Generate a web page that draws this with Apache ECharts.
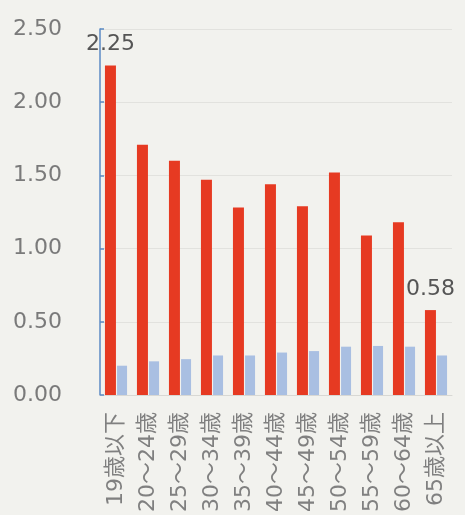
<!DOCTYPE html>
<html>
<head>
<meta charset="utf-8">
<script src="https://cdn.jsdelivr.net/npm/echarts@6/dist/echarts.min.js"></script>
<style>
  html, body { margin: 0; padding: 0; background: #f2f2ee; }
  #chart { width: 465px; height: 515px; }
</style>
</head>
<body>
<div id="chart"></div>
<script>
const categories = ['19歳以下', '20～24歳', '25～29歳', '30～34歳', '35～39歳', '40～44歳',
  '45～49歳', '50～54歳', '55～59歳', '60～64歳', '65歳以上'];
const redValues = [2.25, 1.71, 1.60, 1.47, 1.28, 1.44, 1.29, 1.52, 1.09, 1.18, 0.58];
const blueValues = [0.20, 0.23, 0.245, 0.27, 0.27, 0.29, 0.30, 0.33, 0.335, 0.33, 0.27];
const labelledIdx = [0, 10];

const chart = echarts.init(document.getElementById('chart'));

const option = {
  backgroundColor: '#f2f2ee',
  animation: false,
  grid: { left: 100, right: 13, top: 29, bottom: 120 },
  xAxis: {
    type: 'category',
    data: categories,
    axisLine: { show: true, lineStyle: { color: '#d8d8d4', width: 1 } },
    axisTick: { show: false },
    axisLabel: {
      rotate: 90,
      margin: 17,
      fontSize: 22,
      color: '#808080',
      fontFamily: 'DejaVu Sans, Noto Sans CJK JP'
    }
  },
  yAxis: {
    type: 'value',
    min: 0,
    max: 2.5,
    interval: 0.5,
    axisLine: { show: true, lineStyle: { color: '#5b8ac4', width: 1.5 } },
    axisTick: { show: true, inside: true, length: 4, lineStyle: { color: '#5b8ac4', width: 1.5 } },
    splitLine: { show: true, lineStyle: { color: '#e2e2de' } },
    axisLabel: {
      formatter: v => v.toFixed(2),
      align: 'left',
      margin: 87,
      fontSize: 22,
      color: '#7a7a7a',
      fontFamily: 'DejaVu Sans',
      padding: [0, 0, 6, 0]
    }
  },
  series: [
    {
      type: 'bar',
      barWidth: 11,
      barGap: '10%',
      itemStyle: { color: '#e63a22' },
      data: redValues.map((v, i) => ({
        value: v,
        label: { show: labelledIdx.includes(i) }
      })),
      label: {
        position: 'top',
        distance: 10,
        fontSize: 22,
        color: '#555',
        fontFamily: 'DejaVu Sans',
        formatter: p => p.value.toFixed(2)
      }
    },
    {
      type: 'bar',
      barWidth: 10,
      itemStyle: { color: '#a9bfe2' },
      data: blueValues
    }
  ]
};

chart.setOption(option);
</script>
</body>
</html>
